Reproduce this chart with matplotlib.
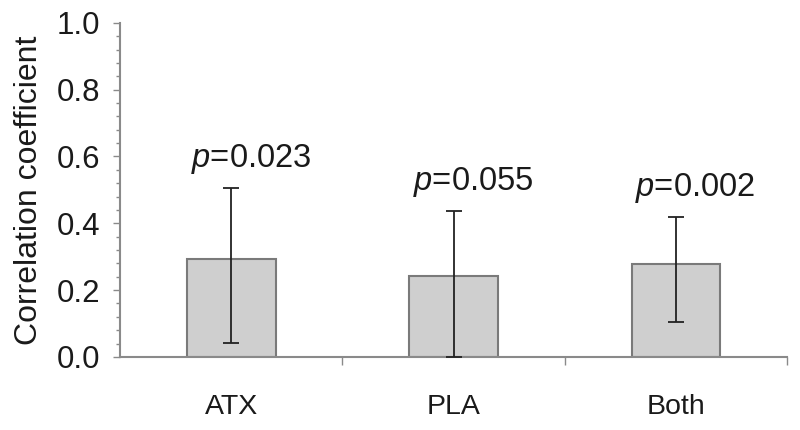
import numpy as np
import matplotlib
matplotlib.use("Agg")
from matplotlib import pyplot as plt
from matplotlib.ticker import MultipleLocator

plt.rcParams['font.family'] = ['Liberation Sans', 'DejaVu Sans']
plt.rcParams['mathtext.fontset'] = 'custom'
plt.rcParams['mathtext.rm'] = 'Liberation Sans'
plt.rcParams['mathtext.it'] = 'Liberation Sans:italic'

# data
groups = ["ATX", "PLA", "Both"]
corr = [0.292, 0.243, 0.278]
ciLow = [0.043, 0.0, 0.103]
ciHigh = [0.505, 0.438, 0.420]
pValues = ["0.023", "0.055", "0.002"]

axisGray = '#8a8a8a'

fig = plt.figure(figsize=(8, 4.3), dpi=100)
ax = fig.add_axes([0.15, 0.17, 0.834, 0.777])

x = np.arange(len(groups))
corrArr = np.array(corr)
yerr = [corrArr - np.array(ciLow), np.array(ciHigh) - corrArr]

ax.bar(x, corr, width=0.4, color='#cfcfcf', edgecolor='#7a7a7a', linewidth=1.5, zorder=2)
ax.errorbar(x, corr, yerr=yerr, fmt='none', ecolor='#222222', elinewidth=1.3,
            capsize=5.5, capthick=1.3, zorder=3)

# p labels sit a bit right of the whisker
for i, p in enumerate(pValues):
    ax.annotate('$p$=' + p, (x[i], ciHigh[i] + 0.063), xytext=(14, 0),
                textcoords='offset points', ha='center', va='baseline',
                fontsize=23.5, color='#1a1a1a')

ax.set_xlim(-0.5, 2.5)
ax.set_ylim(0, 1.0)
ax.yaxis.set_major_locator(MultipleLocator(0.2))
ax.yaxis.set_minor_locator(MultipleLocator(0.04))
ax.yaxis.set_major_formatter(matplotlib.ticker.FormatStrFormatter('%.1f'))

ax.set_xticks(x)
ax.set_xticklabels(groups)
ax.set_xticks([0.5, 1.5, 2.5], minor=True)
ax.tick_params(axis='x', which='major', length=0, pad=27, labelsize=20.5, labelcolor='#1a1a1a')
ax.tick_params(axis='x', which='minor', length=6, width=1, color=axisGray, direction='out')
ax.tick_params(axis='y', which='major', length=5, width=1, color=axisGray, labelsize=22.5,
               pad=9, labelcolor='#1a1a1a')
ax.tick_params(axis='y', which='minor', length=3, width=1, color=axisGray)

for s in ['top', 'right']:
    ax.spines[s].set_visible(False)
for s in ['left', 'bottom']:
    ax.spines[s].set_color(axisGray)
    ax.spines[s].set_linewidth(1.5)

ax.set_ylabel("Correlation coefficient", fontsize=23, labelpad=9, color='#1a1a1a')

plt.savefig("out.png", dpi=100)
